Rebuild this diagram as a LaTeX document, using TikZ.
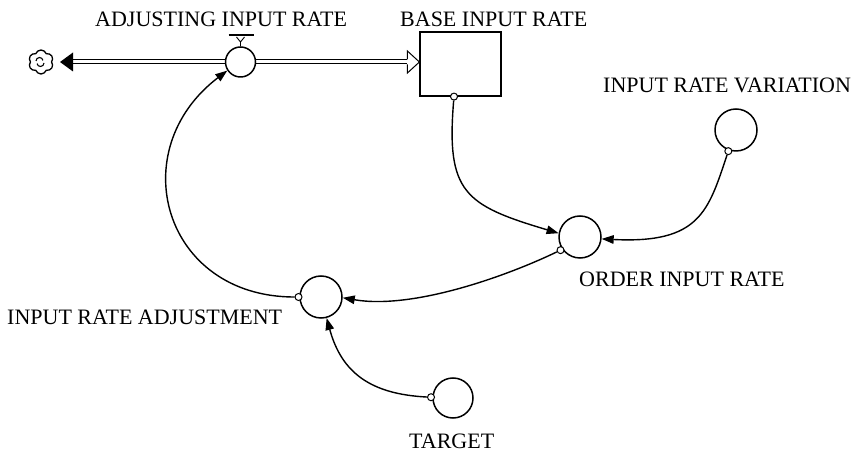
\documentclass[tikz,border=0pt]{standalone}
\usepackage{fontspec}
\setmainfont{Liberation Serif}
\usetikzlibrary{arrows.meta,shapes.symbols,calc,backgrounds}

\begin{document}
\begin{tikzpicture}[x=1pt,y=1pt,
  aux/.style={circle, draw, line width=1.5pt, minimum size=42pt, inner sep=0pt},
  stock/.style={rectangle, draw, line width=1.2pt, minimum width=81pt, minimum height=64pt, inner sep=0pt},
  valvecirc/.style={circle, draw, line width=1.5pt, fill=white, minimum size=30pt, inner sep=0pt},
  lbl/.style={anchor=base west, inner sep=0pt, font=\fontsize{22}{24}\selectfont},
  link/.style={line width=1.4pt, -{Triangle[length=12pt,width=8.5pt]}},
  tap/.style={circle, draw, line width=1pt, fill=white, minimum size=7pt, inner sep=0pt},
  pipe/.style={draw, line width=1pt, double=white, double distance=3pt},
  pipehead/.style={line width=1pt},
]
\useasboundingbox (0,0) rectangle (866,452);

% stock, valve and auxiliaries
\node[valvecirc] (valve) at (240.5,390) {};
\node[stock] (box) at (460.5,388) {};
\node[aux] (order) at (580,215) {};
\node[aux] (var) at (736,322) {};
\node[aux] (adj) at (321,155) {};
\node[aux, minimum size=40pt] (target) at (453,54) {};

% source/sink cloud
\node[cloud, cloud puffs=6, cloud puff arc=140, draw, line width=1.3pt, minimum width=25pt, minimum height=24pt, inner sep=0pt] (cloud) at (41,390) {};
\draw[line width=1.1pt] ([xshift=-5pt,yshift=1pt]cloud.center) arc[start angle=180, end angle=10, radius=3.5pt];
\draw[line width=1.1pt] ([xshift=3pt,yshift=-1pt]cloud.center) arc[start angle=0, end angle=-170, radius=3.5pt];

% flow pipe
\coordinate (outtip) at (60,390);
\coordinate (outback) at (73,390);
\coordinate (intip) at (box.west |- valve.center);
\coordinate (inback) at ($(intip)+(-12,0)$);
\begin{scope}[on background layer]
  \draw[pipe] (valve.center) -- (outback);
  \draw[pipe] (valve.center) -- (inback);
\end{scope}
\fill (outtip) -- ([yshift=9.5pt]outback) -- ([yshift=-9.5pt]outback) -- cycle;
\draw[pipehead, fill=white] ([yshift=2.5pt]inback) -- ([yshift=11pt]inback) -- (intip)
  -- ([yshift=-11pt]inback) -- ([yshift=-2.5pt]inback);

% valve handle
\draw[line width=2.4pt] ([xshift=-12pt,yshift=27pt]valve.center) -- ++(25,0);
\draw[line width=0.9pt] ([xshift=-4pt,yshift=25pt]valve.center) -- ([yshift=20pt]valve.center)
  -- ([xshift=4pt,yshift=25pt]valve.center);
\draw[line width=0.9pt] ([yshift=20pt]valve.center) -- (valve.north);

% connector taps
\node[tap] (tB) at ([xshift=-6.5pt]box.south) {};
\node[tap] (tV) at ($(var.center)+(250:22.5)$) {};
\node[tap] (tO) at ($(order.center)+(214:23.5)$) {};
\node[tap] (tA) at ($(adj.center)+(180:22.5)$) {};
\node[tap] (tT) at ($(target.center)+(178:22)$) {};

% connectors
\draw[link] (tB) .. controls +(-8,-96) and +(-94,28) .. (order.170);
\draw[link] (tV) .. controls +(-20,-60) and +(98,-5) .. (order.-5);
\draw[link] (tO) .. controls +(-54,-26) and +(70,-12) .. (adj.-2);
\draw[link] (tA) .. controls +(-135,0) and +(-105,-80) .. (valve.213);
\draw[link] (tT) .. controls +(-60,3) and +(15,-55) .. (adj.-75);

% labels
\node[lbl] (lAdjR) at (95,425) {ADJUSTING INPUT RATE};
\node[lbl] (lBase) at (400,425) {BASE INPUT RATE};
\node[lbl] (lVar) at (603,359) {INPUT RATE VARIATION};
\node[lbl] (lOrd) at (579,165) {ORDER INPUT RATE};
\node[lbl] (lAdj) at (7,127) {INPUT RATE ADJUSTMENT};
\node[lbl] (lTgt) at (409,4) {TARGET};
\end{tikzpicture}
\end{document}
